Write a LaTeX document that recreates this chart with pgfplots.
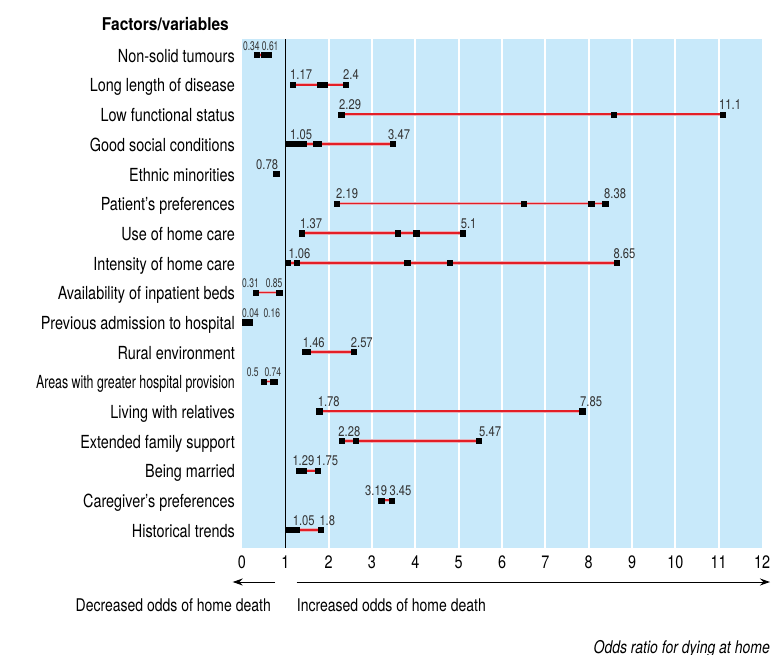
\documentclass[border=0pt]{standalone}
\usepackage{pgfplots}
\pgfplotsset{compat=1.18}
\usepackage{fontspec}
\setmainfont{TeX Gyre Heros}[FakeStretch=0.8]
\newfontfamily\headfont{TeX Gyre Heros}[FakeStretch=0.88]
\usetikzlibrary{arrows.meta}

\definecolor{bgblue}{RGB}{200,233,250}
\definecolor{cired}{RGB}{228,30,38}
\definecolor{halo}{RGB}{226,178,188}
\definecolor{labgray}{RGB}{51,51,51}

% value labels above the intervals
\newcommand{\lab}[3]{\node[anchor=base west, inner sep=0pt, yshift=4.7pt,
  font=\fontsize{14}{14}\selectfont, text=labgray] at (axis cs:#1,#2) {#3};}
\newcommand{\slab}[3]{\node[anchor=base west, inner sep=0pt, yshift=4.7pt,
  font=\fontsize{12.5}{12.5}\selectfont, text=labgray] at (axis cs:#1,#2) {\scalebox{0.85}[1]{#3}};}

\begin{document}
\begin{tikzpicture}[x=1pt,y=1pt]
\useasboundingbox (0,0) rectangle (771,654);
\begin{axis}[
  at={(242pt,106pt)}, anchor=south west,
  scale only axis, width=520pt, height=509pt,
  xmin=0, xmax=12, ymin=0.394, ymax=17.539,
  axis background/.style={fill=bgblue},
  axis line style={draw=none},
  major tick length=0pt,
  xtick={0,...,12},
  extra x ticks={2,...,11}, extra x tick labels={},
  extra x tick style={grid=major, major grid style={white, line width=1.7pt}},
  ytick={1,...,17},
  yticklabels={Historical trends, Caregiver's preferences, Being married,
    Extended family support, Living with relatives,
    \scalebox{0.86}[1]{Areas with greater hospital provision}, Rural environment,
    Previous admission to hospital, Availability of inpatient beds,
    Intensity of home care, Use of home care, Patient's preferences,
    Ethnic minorities, Good social conditions, Low functional status,
    Long length of disease, Non-solid tumours},
  /pgf/number format/assume math mode=true,
  xticklabel style={font=\fontsize{18}{18}\selectfont, inner sep=0pt, yshift=-8pt},
  yticklabel style={font=\fontsize{18}{18}\selectfont, anchor=base east,
    inner sep=0pt, xshift=-7pt, yshift=-7.3pt},
  seg/.style={cired, line width=1.8pt, forget plot,
    preaction={draw=halo, line width=3.4pt}},
  clip=false,
]
% reference line at odds ratio 1
\addplot[black, line width=1.1pt, forget plot] coordinates {(1,0.394) (1,17.539)};

% confidence ranges (lowest to highest reported odds ratio)
\addplot[seg] coordinates {(0.34,17) (0.61,17)};
\addplot[seg] coordinates {(1.17,16) (2.40,16)};
\addplot[seg] coordinates {(2.29,15) (11.1,15)};
\addplot[seg] coordinates {(1.05,14) (3.47,14)};
\addplot[seg] coordinates {(2.19,12) (8.38,12)};
\addplot[seg] coordinates {(1.37,11) (5.10,11)};
\addplot[seg] coordinates {(1.06,10) (8.65,10)};
\addplot[seg] coordinates {(0.31,9) (0.85,9)};
\addplot[seg] coordinates {(1.46,7) (2.57,7)};
\addplot[seg] coordinates {(0.50,6) (0.74,6)};
\addplot[seg] coordinates {(1.78,5) (7.85,5)};
\addplot[seg] coordinates {(2.28,4) (5.47,4)};
\addplot[seg] coordinates {(1.29,3) (1.75,3)};
\addplot[seg] coordinates {(3.19,2) (3.45,2)};
\addplot[seg] coordinates {(1.05,1) (1.80,1)};

% individual study estimates
\addplot[only marks, mark=square*, mark size=2.6pt, black] coordinates {
  (0.34,17) (0.50,17) (0.61,17)
  (1.17,16) (1.79,16) (1.91,16) (2.40,16)
  (2.29,15) (8.57,15) (11.1,15)
  (1.05,14) (1.15,14) (1.25,14) (1.35,14) (1.41,14) (1.70,14) (1.76,14) (3.47,14)
  (0.79,13)
  (2.19,12) (6.50,12) (8.06,12) (8.38,12)
  (1.37,11) (3.60,11) (4.02,11) (5.10,11)
  (1.06,10) (1.26,10) (3.81,10) (4.80,10) (8.65,10)
  (0.32,9) (0.86,9)
  (0.06,8) (0.12,8) (0.17,8)
  (1.45,7) (1.51,7) (2.57,7)
  (0.50,6) (0.71,6) (0.76,6)
  (1.78,5) (7.85,5)
  (2.30,4) (2.63,4) (5.47,4)
  (1.32,3) (1.42,3) (1.75,3)
  (3.21,2) (3.45,2)
  (1.06,1) (1.14,1) (1.20,1) (1.25,1) (1.82,1)
};

\slab{0.02}{17}{0.34} \slab{0.455}{17}{0.61}
\lab{1.108}{16}{1.17} \lab{2.331}{16}{2.4}
\lab{2.239}{15}{2.29} \lab{11.008}{15}{11.1}
\lab{1.108}{14}{1.05} \lab{3.369}{14}{3.47}
\lab{0.323}{13}{0.78}
\lab{2.169}{12}{2.19} \lab{8.354}{12}{8.38}
\lab{1.339}{11}{1.37} \lab{5.047}{11}{5.1}
\lab{1.069}{10}{1.06} \lab{8.569}{10}{8.65}
\slab{0.0}{9}{0.31} \slab{0.547}{9}{0.85}
\slab{0.0}{8}{0.04} \slab{0.492}{8}{0.16}
\lab{1.401}{7}{1.46} \lab{2.509}{7}{2.57}
\slab{0.108}{6}{0.5} \slab{0.515}{6}{0.74}
\lab{1.747}{5}{1.78} \lab{7.80}{5}{7.85}
\lab{2.222}{4}{2.28} \lab{5.47}{4}{5.47}
\lab{1.161}{3}{1.29} \lab{1.708}{3}{1.75}
\lab{2.839}{2}{3.19} \lab{3.40}{2}{3.45}
\lab{1.17}{1}{1.05} \lab{1.784}{1}{1.8}
\end{axis}

\node[anchor=base east, inner sep=0pt,
  font=\headfont\bfseries\fontsize{17.6}{17.6}\selectfont] at (229,623.6) {Factors/variables};

\draw[line width=1pt, -{Stealth[length=10pt,width=7pt]}] (275,72) -- (232.7,72);
\draw[line width=1pt, -{Stealth[length=10pt,width=7pt]}] (296.7,72) -- (770,72);

\node[anchor=base east, inner sep=0pt, font=\fontsize{17.5}{17.5}\selectfont]
  at (271,43) {Decreased odds of home death};
\node[anchor=base west, inner sep=0pt, font=\fontsize{17.5}{17.5}\selectfont]
  at (296.7,43) {Increased odds of home death};
\node[anchor=base east, inner sep=0pt, font=\itshape\fontsize{17.5}{17.5}\selectfont]
  at (770,0.5) {Odds ratio for dying at home};
\end{tikzpicture}
\end{document}
